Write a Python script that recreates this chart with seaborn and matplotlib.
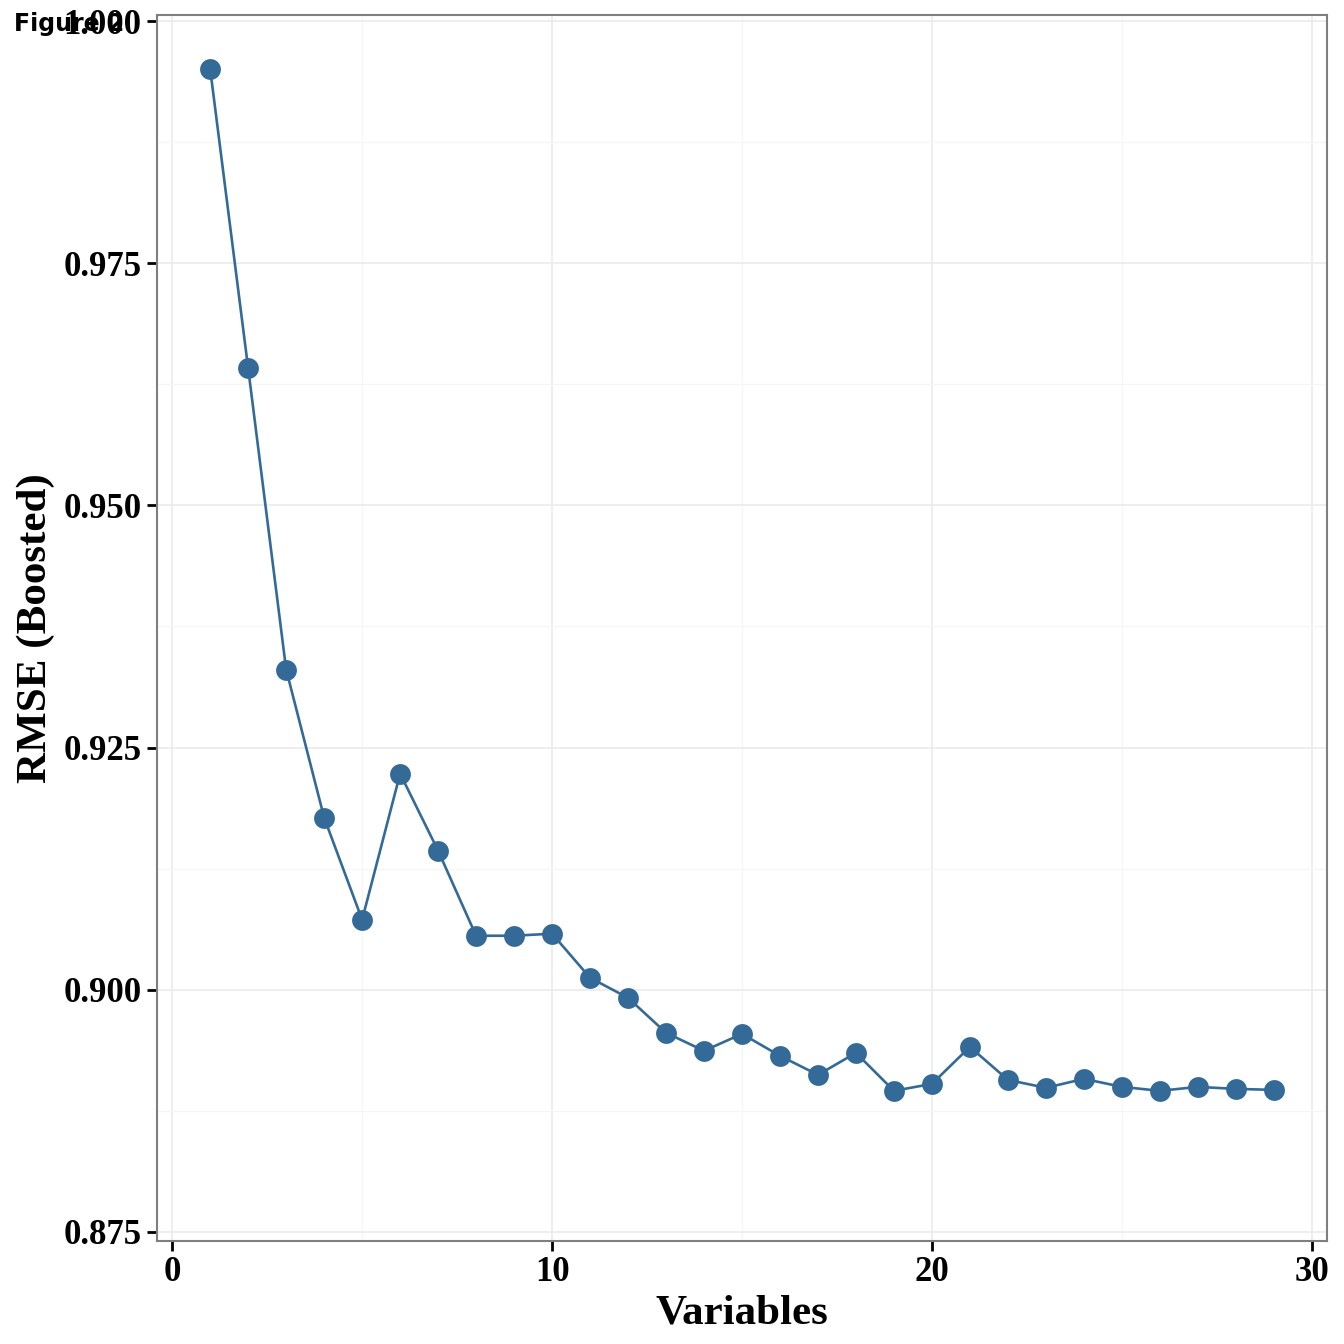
import numpy as np
import pandas as pd
import matplotlib
matplotlib.use("Agg")
import matplotlib.pyplot as plt
import seaborn as sns
from matplotlib.ticker import MultipleLocator

# number of variables vs boosted RMSE
variables = list(range(1, 30))
rmse = [0.99504, 0.96415, 0.93306, 0.91777, 0.90723, 0.92231, 0.91436, 0.90558,
        0.90558, 0.90579, 0.90124, 0.89917, 0.89556, 0.89370, 0.89545, 0.89318,
        0.89122, 0.89349, 0.88957, 0.89029, 0.89411, 0.89070, 0.88988, 0.89081,
        0.88998, 0.88957, 0.88998, 0.88977, 0.88967]
y_ticks = [0.875, 0.900, 0.925, 0.950, 0.975, 1.000]
x_ticks = [0, 10, 20, 30]

df = pd.DataFrame({"Variables": variables, "RMSE": rmse})

sns.set_style("white")
plt.rcParams["font.family"] = ["Liberation Serif", "DejaVu Serif"]
plt.rcParams["text.color"] = "black"

fig = plt.figure(figsize=(13.44, 13.44), dpi=100)
ax = fig.add_axes([157/1344, 1 - 1241/1344, (1327 - 157)/1344, (1241 - 15)/1344])

col = "#346a98"
sns.lineplot(data=df, x="Variables", y="RMSE", ax=ax, color=col, linewidth=1.9,
             marker="o", markersize=15, markeredgewidth=0, markerfacecolor=col)

ax.set_xlim(-0.4, 30.4)
ax.set_ylim(0.87407, 1.00062)
ax.set_xticks(x_ticks)
ax.set_yticks(y_ticks)
ax.set_yticklabels([f"{v:.3f}" for v in y_ticks])
ax.xaxis.set_minor_locator(MultipleLocator(5))
ax.yaxis.set_minor_locator(MultipleLocator(0.0125))

ax.grid(which="major", color="#ebebeb", linewidth=1.2)
ax.grid(which="minor", color="#f6f6f6", linewidth=1.0)
ax.set_axisbelow(True)
for s in ax.spines.values():
    s.set_color("#7f7f7f")
    s.set_linewidth(1.5)

ax.tick_params(which="major", bottom=True, left=True, length=7, width=2,
               color="black", labelcolor="black", labelsize=25, pad=4)
ax.tick_params(which="minor", bottom=False, left=False, length=0)
for lab in ax.get_xticklabels() + ax.get_yticklabels():
    lab.set_fontweight("bold")

ax.set_xlabel("Variables", fontsize=31, fontweight="bold", labelpad=4, color="black")
ax.set_ylabel("RMSE (Boosted)", fontsize=31, fontweight="bold", labelpad=6, color="black")

fig.text(14/1344, 1 - 24/1344, "Figure 2", family="DejaVu Sans", fontweight="bold",
         fontsize=17, va="center", ha="left", color="black")

fig.savefig("out.png", dpi=100)
